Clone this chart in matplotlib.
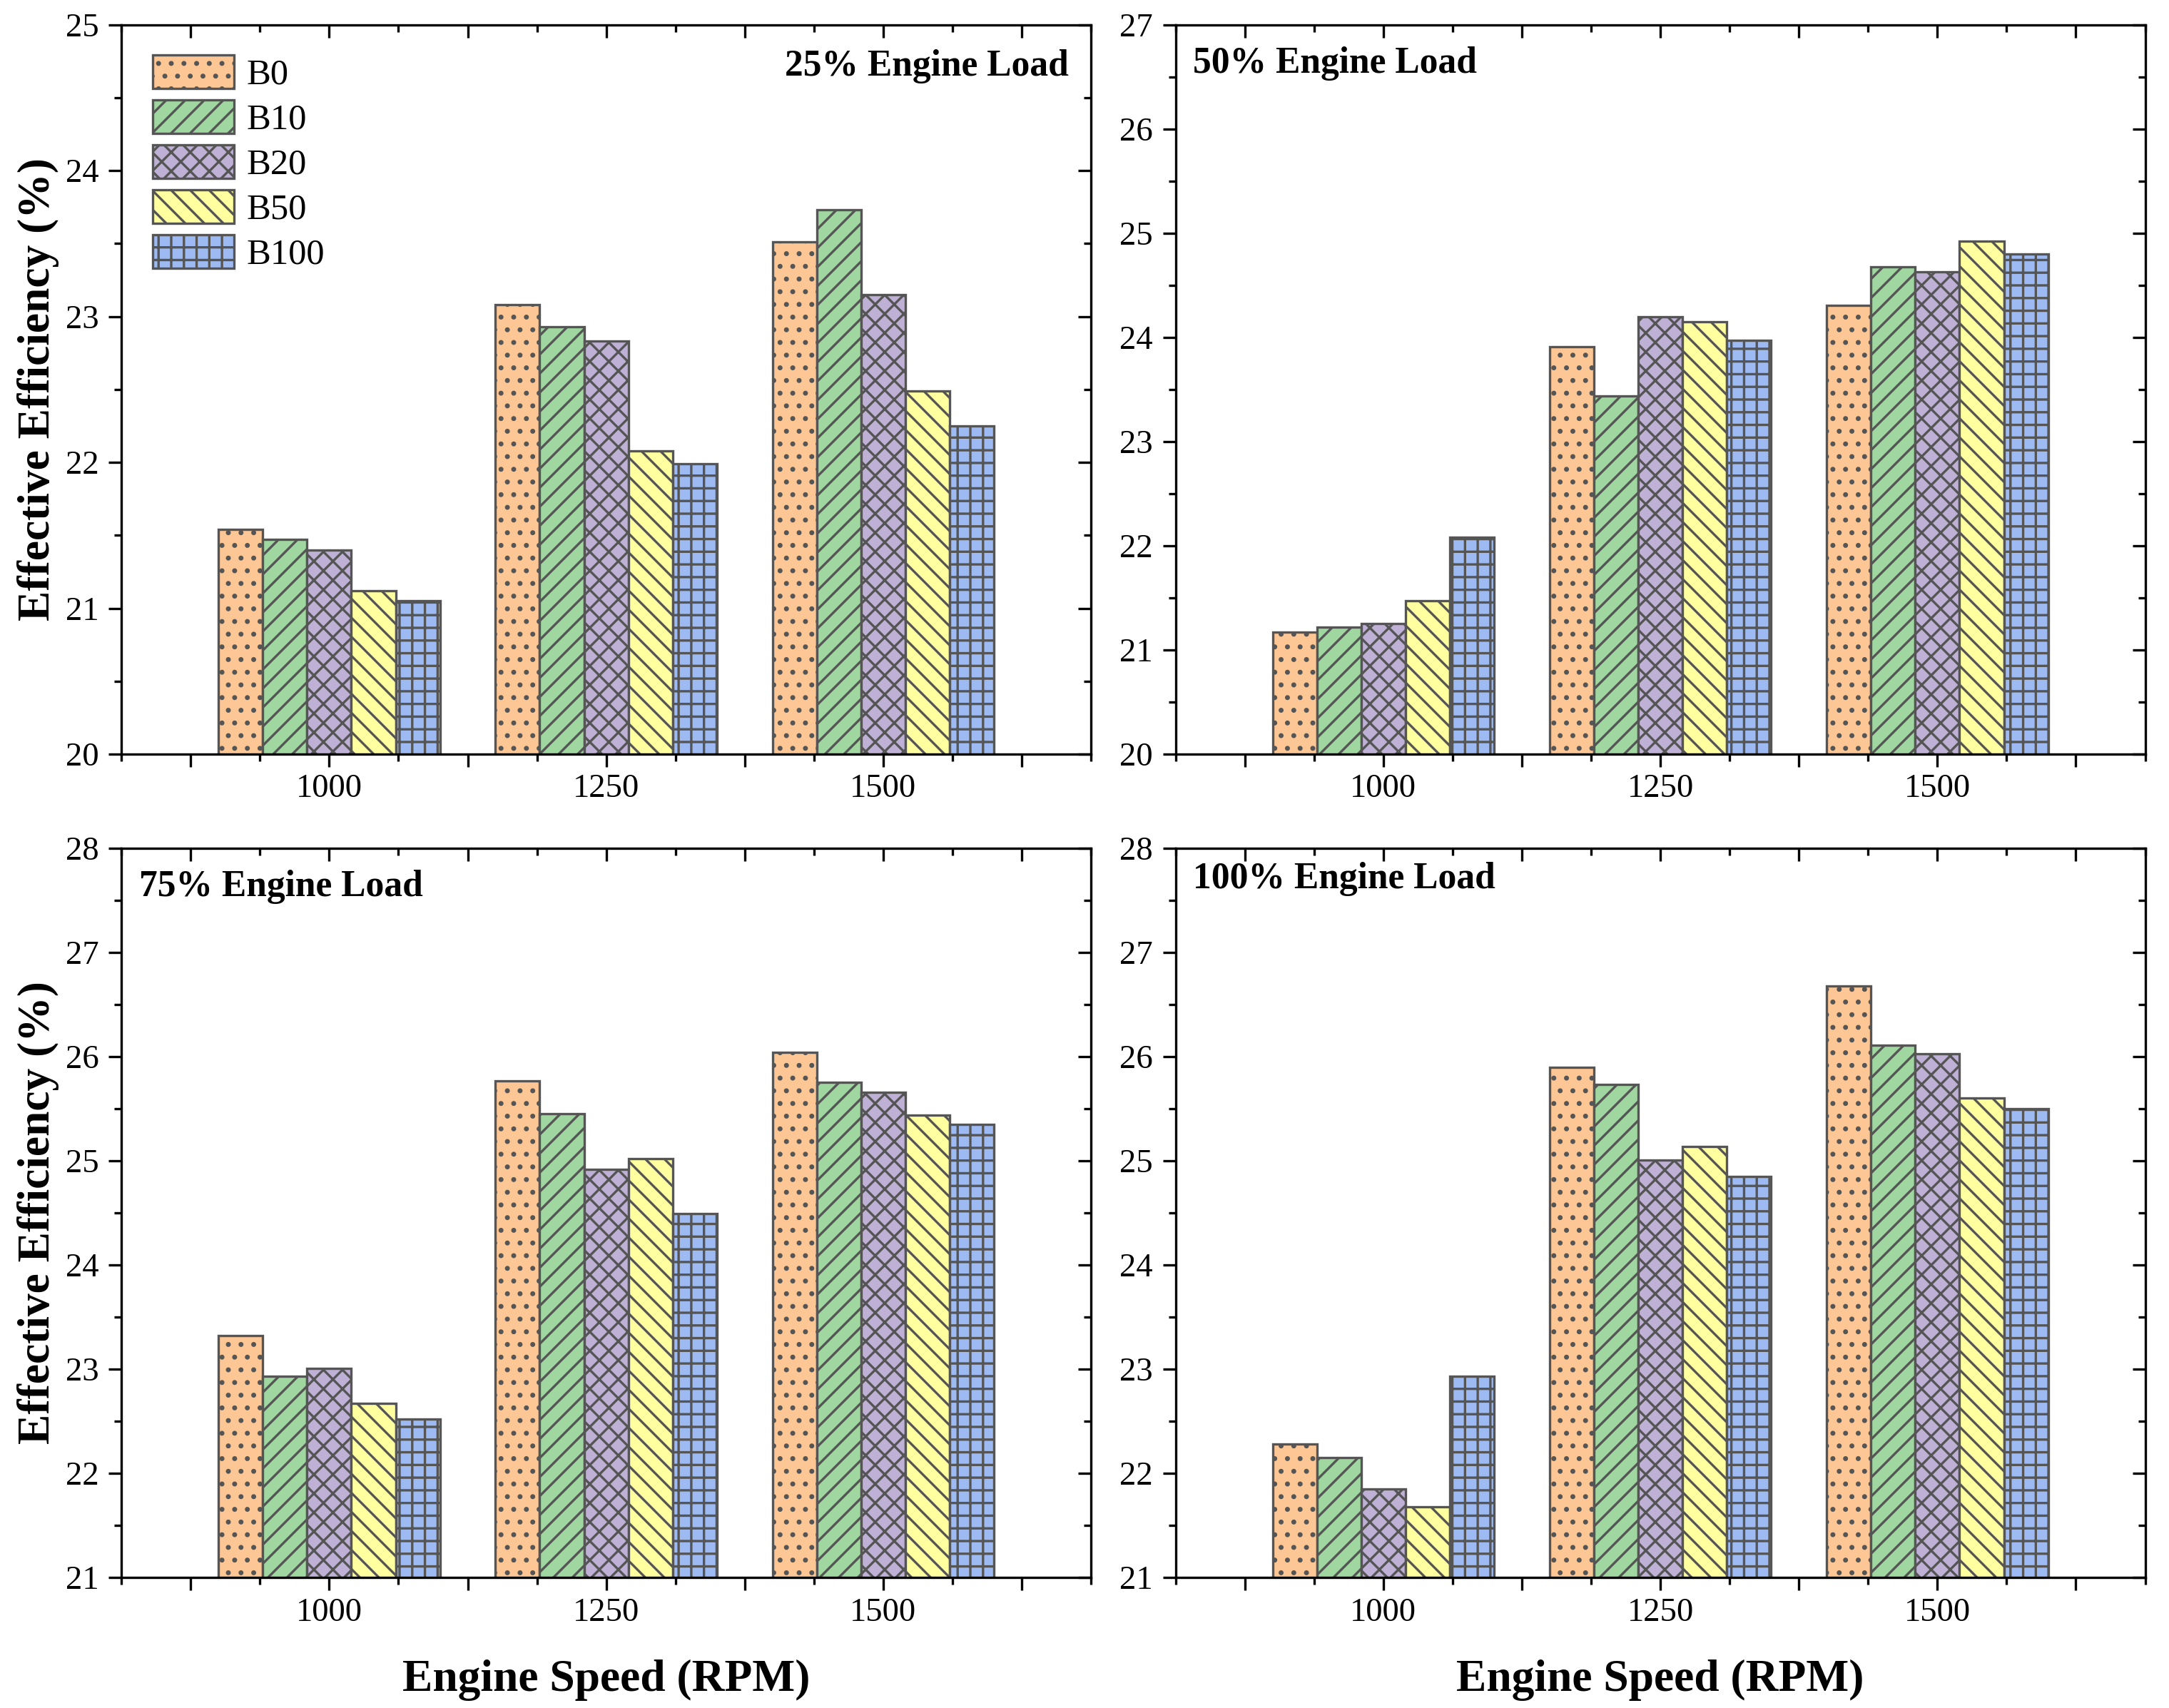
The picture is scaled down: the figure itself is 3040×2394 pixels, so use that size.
import numpy as np
import matplotlib
matplotlib.use("Agg")
import matplotlib.pyplot as plt
from matplotlib.ticker import AutoMinorLocator, FixedLocator, FixedFormatter

plt.rcParams['font.family'] = ['Liberation Serif', 'DejaVu Serif']
plt.rcParams['hatch.linewidth'] = 0.75
plt.rcParams['hatch.color'] = '#555555'

# Données
speeds = [1000, 1250, 1500]
fuels = ["B0", "B10", "B20", "B50", "B100"]
colors = ['#FDC795', '#A0D7A0', '#BFB1D5', '#FFFFA0', '#9DBAF2']
hatches = ['...', '////', 'xxxx', '\\\\\\\\', '+++']

load_25 = [
    [21.54, 23.08, 23.51],   # B0
    [21.47, 22.93, 23.73],   # B10
    [21.40, 22.83, 23.15],   # B20
    [21.12, 22.08, 22.49],   # B50
    [21.05, 21.99, 22.25],   # B100
]
load_50 = [
    [21.17, 23.91, 24.31],
    [21.22, 23.44, 24.68],
    [21.25, 24.20, 24.63],
    [21.47, 24.15, 24.92],
    [22.08, 23.97, 24.80],
]
load_75 = [
    [23.32, 25.77, 26.04],
    [22.93, 25.45, 25.75],
    [23.01, 24.92, 25.66],
    [22.67, 25.02, 25.44],
    [22.52, 24.49, 25.35],
]
load_100 = [
    [22.28, 25.90, 26.68],
    [22.15, 25.73, 26.11],
    [21.85, 25.01, 26.03],
    [21.68, 25.14, 25.60],
    [22.93, 24.85, 25.50],
]

panels = [
    (load_25, "25% Engine Load", (20, 25)),
    (load_50, "50% Engine Load", (20, 27)),
    (load_75, "75% Engine Load", (21, 28)),
    (load_100, "100% Engine Load", (21, 28)),
]

DPI = 320
fig = plt.figure(figsize=(3040 / DPI, 2394 / DPI), dpi=DPI)

# positions des axes (fractions de la figure)
lefts = [0.056, 0.542]
bottoms = [0.5585, 0.0764]
w, h = 0.447, 0.427

bar_w = 40
offsets = [-80, -40, 0, 40, 80]

for k, (data, title, ylim) in enumerate(panels):
    row, col = divmod(k, 2)
    ax = fig.add_axes([lefts[col], bottoms[row], w, h])

    for i, fuel in enumerate(fuels):
        x = [s + offsets[i] for s in speeds]
        ax.bar(x, data[i], width=bar_w, bottom=0, color=colors[i],
               edgecolor='#555555', linewidth=0.75, hatch=hatches[i],
               label=fuel, zorder=2)

    ax.set_xlim(812.5, 1687.5)
    ax.set_ylim(*ylim)

    major_x = [875, 1000, 1125, 1250, 1375, 1500, 1625]
    ax.xaxis.set_major_locator(FixedLocator(major_x))
    ax.xaxis.set_major_formatter(FixedFormatter(['', '1000', '', '1250', '', '1500', '']))
    ax.xaxis.set_minor_locator(AutoMinorLocator(2))
    ax.yaxis.set_major_locator(FixedLocator(np.arange(ylim[0], ylim[1] + 1, 1)))
    ax.yaxis.set_minor_locator(AutoMinorLocator(2))

    ax.tick_params(which='both', top=True, right=True, width=0.75, labelsize=10.5)
    ax.tick_params(which='major', length=4.1)
    ax.tick_params(which='minor', length=2.3)
    ax.tick_params(axis='x', which='both', direction='out', pad=2.2)
    ax.tick_params(axis='y', which='both', direction='out', pad=3)
    # ticks du haut et de droite vers l'intérieur
    for t in ax.xaxis.get_major_ticks() + ax.xaxis.get_minor_ticks():
        t.tick2line.set_marker(3)
    for t in ax.yaxis.get_major_ticks() + ax.yaxis.get_minor_ticks():
        t.tick2line.set_marker(0)

    for sp in ax.spines.values():
        sp.set_linewidth(0.75)

    if title.startswith("25"):
        ax.text(0.977, 0.943, title, transform=ax.transAxes, ha='right', va='center',
                fontsize=11.6, fontweight='bold')
    else:
        ty = 0.958 if title.startswith("100") else 0.947
        ax.text(0.018, ty, title, transform=ax.transAxes, ha='left', va='center',
                fontsize=11.6, fontweight='bold')

    if col == 0:
        ax.set_ylabel("Effective Efficiency (%)", fontsize=14.3, fontweight='bold', labelpad=2)
    if row == 1:
        ax.set_xlabel("Engine Speed (RPM)", fontsize=14.3, fontweight='bold', labelpad=10)

    if k == 0:
        ax.legend(loc='upper left', bbox_to_anchor=(0.032, 0.959), frameon=False,
                  fontsize=11.4, handlelength=2.26, handleheight=1.06,
                  labelspacing=0.22, handletextpad=0.34, borderaxespad=0,
                  borderpad=0)

fig.savefig("out.png", dpi=DPI)
